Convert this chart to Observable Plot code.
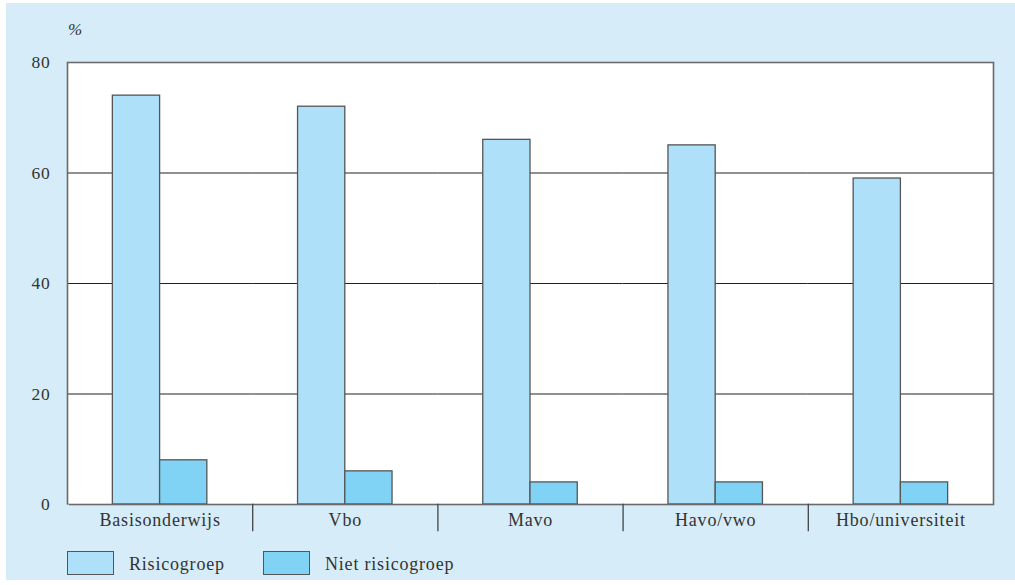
<!DOCTYPE html>
<html>
<head>
<meta charset="utf-8">
<script src="https://cdn.jsdelivr.net/npm/d3@7"></script>
<script src="https://cdn.jsdelivr.net/npm/@observablehq/plot@0.6"></script>
<style>
  html, body { margin: 0; padding: 0; background: #ffffff; }
  body { width: 1015px; height: 585px; position: relative; overflow: hidden; font-family: "Liberation Serif", "DejaVu Serif", serif; }
  #wrap { position: absolute; left: 6px; top: 3px; width: 1009px; height: 577px; background: #d6edf9; }
  #chart { position: absolute; left: 0; top: 1px; }
  #chart svg text { letter-spacing: 0.8px; }
  #pct { position: absolute; left: 62px; top: 17px; font-style: italic; font-size: 17px; color: #333; }
  .sw { position: absolute; top: 548px; width: 45px; height: 22px; border: 1.3px solid #555; }
  .lt { position: absolute; top: 548px; font-size: 18px; line-height: 26px; letter-spacing: 0.8px; color: #333; }
</style>
</head>
<body>
<div id="wrap">
  <div id="pct">%</div>
  <div id="chart"></div>
  <div id="legend"></div>
</div>
<script>
const categories = ["Basisonderwijs", "Vbo", "Mavo", "Havo/vwo", "Hbo/universiteit"];
const groups = ["Risicogroep", "Niet risicogroep"];
const risicogroep = [74, 72, 66, 65, 59];
const nietRisicogroep = [8, 6, 4, 4, 4];
const yTicks = [0, 20, 40, 60, 80];
const gridTicks = [20, 40, 60];
const colors = ["#aee0f9", "#80d3f5"];
const panelBlue = "#d6edf9";

const data = categories.flatMap((c, i) => [
  {cat: c, group: groups[0], value: risicogroep[i]},
  {cat: c, group: groups[1], value: nietRisicogroep[i]}
]);

const chart = Plot.plot({
  width: 1009,
  height: 540,
  marginLeft: 61,
  marginRight: 22,
  marginTop: 58,
  marginBottom: 40,
  style: {background: "transparent", fontFamily: "'Liberation Serif', 'DejaVu Serif', serif", fontSize: "17px", color: "#333"},
  fx: {domain: categories, padding: 0, round: false, label: null},
  x: {domain: groups, paddingInner: 0, paddingOuter: 0.96, round: false, axis: null},
  y: {domain: [0, 80], label: null, axis: null},
  color: {domain: groups, range: colors},
  marks: [
    Plot.frame({fill: "white", facet: "super"}),
    Plot.ruleY(gridTicks, {stroke: "#222", strokeWidth: 1.2}),
    Plot.barY(data, {fx: "cat", x: "group", y: "value", fill: "group", stroke: "#555", strokeWidth: 1.3}),
    Plot.frame({stroke: "#6a6a6a", strokeWidth: 1.6, facet: "super"}),
    // category separators below the axis (between facets)
    Plot.frame({anchor: "left", stroke: "#444", strokeWidth: 1.3, insetTop: 442, insetBottom: -26}),
    // no separator before the first category
    Plot.frame({anchor: "left", facetAnchor: "left", stroke: panelBlue, strokeWidth: 3, insetTop: 443.5, insetBottom: -27}),
    Plot.axisY({anchor: "left", ticks: yTicks, tickSize: 0, tickPadding: 17, label: null, fontSize: 17.5, fill: "#333"}),
    Plot.axisFx({anchor: "bottom", tickSize: 0, tickPadding: 9, label: null, fontSize: 18, fill: "#333"})
  ]
});
document.getElementById("chart").appendChild(chart);

const legend = document.getElementById("legend");
const legendX = [[61, 123], [257, 319]];
groups.forEach((g, i) => {
  const sw = document.createElement("div");
  sw.className = "sw";
  sw.style.left = legendX[i][0] + "px";
  sw.style.background = colors[i];
  legend.appendChild(sw);
  const t = document.createElement("div");
  t.className = "lt";
  t.style.left = legendX[i][1] + "px";
  t.textContent = g;
  legend.appendChild(t);
});
</script>
</body>
</html>
